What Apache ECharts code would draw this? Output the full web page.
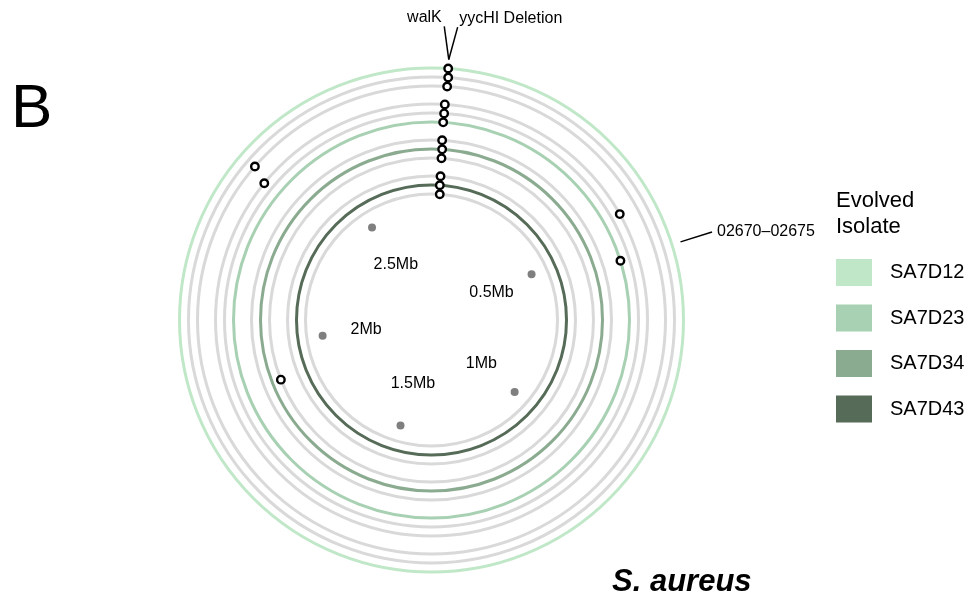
<!DOCTYPE html>
<html>
<head>
<meta charset="utf-8">
<script src="https://cdn.jsdelivr.net/npm/echarts@6/dist/echarts.min.js"></script>
<style>
  html, body { margin: 0; padding: 0; background: #fff; }
  #chart { width: 974px; height: 602px; }
</style>
</head>
<body>
<div id="chart"></div>
<script>
// Genome length (bp) used for the circular scale
const genomeLength = 2750000;

// Evolved isolates, outermost track group first
const isolates = ['SA7D12', 'SA7D23', 'SA7D34', 'SA7D43'];
// Which of the three tracks of each isolate is drawn in the isolate colour (0 = innermost)
const highlightTrack = [2, 0, 1, 1];

// Mutation calls: isolate index, track within the isolate group, genome position (bp)
const mutIsolate = [0, 0, 0, 1, 1, 1, 2, 2, 2, 3, 3, 3, 0, 1, 1, 1, 2];
const mutTrack   = [2, 1, 0, 2, 1, 0, 2, 1, 0, 2, 1, 0, 0, 2, 2, 0, 0];
const mutPos     = [29000, 30100, 29300, 27000, 26700, 25800, 25900, 27300, 27000, 27400, 27000, 28700,
                    2375700, 2362500, 463200, 554500, 1897500];

// Genome position ticks (Mb)
const tickMb = [0.5, 1, 1.5, 2, 2.5];
const tickLabels = ['0.5Mb', '1Mb', '1.5Mb', '2Mb', '2.5Mb'];

// Annotated genes
const geneNames = ['walK', 'yycHI Deletion', '02670\u201302675'];
const genePos = [29000, 29000, 554500];

// ---- layout & styling ----
const FONT = '"Liberation Sans", Arial, Helvetica, sans-serif';
const isolateColors = ['#c0e8c8', '#a8d0b2', '#8bab90', '#566b58'];
const TRACK_GRAY = '#d9d9d9';
const TRACK_BASE = 126, TRACK_STEP = 9, GROUP_STEP = 36;
const TICK_DOT_R = 110, TICK_LABEL_R = 66;
const LEAD_R0 = 261, LEAD_R1 = 294;
const geneLabelShift = [-10000, 10000, 0];           // spread of the label end of each leader line (bp)
const geneLabelAlign = ['right', 'left', 'left'];
const geneLabelOffset = [[-2.5, -8.5], [1.5, -8.5], [5, 0]];

function trackRadius(iso, track) {
  const group = isolates.length - 1 - iso;             // 0 = innermost group
  return TRACK_BASE + GROUP_STEP * group + TRACK_STEP * track;
}

const ringSeries = isolates.map((name, i) => ({
  type: 'custom',
  name: name,
  coordinateSystem: 'polar',
  silent: true,
  z: 1,
  itemStyle: { color: isolateColors[i] },
  data: [0, 1, 2].map(t => [trackRadius(i, t), 0, t]),
  renderItem: function (params, api) {
    const cs = params.coordSys;
    const p = api.coord([api.value(0), 0]);
    const r = Math.hypot(p[0] - cs.cx, p[1] - cs.cy);
    const t = api.value(2);
    return {
      type: 'circle',
      shape: { cx: cs.cx, cy: cs.cy, r: r },
      style: { fill: 'none', stroke: t === highlightTrack[i] ? isolateColors[i] : TRACK_GRAY, lineWidth: 3 }
    };
  }
}));

const option = {
  animation: false,
  backgroundColor: '#fff',
  textStyle: { fontFamily: FONT },
  title: [
    { text: 'B', left: 11, top: 79, padding: 0,
      textStyle: { fontSize: 62, fontWeight: 'normal', color: '#000', fontFamily: FONT } },
    { text: 'Evolved\nIsolate', left: 836, top: 188, padding: 0,
      textStyle: { fontSize: 22, lineHeight: 26, fontWeight: 'normal', color: '#000', fontFamily: FONT } },
    { text: 'S. aureus', left: 612, top: 567, padding: 0,
      textStyle: { fontSize: 31, fontWeight: 'bold', fontStyle: 'italic', color: '#000', fontFamily: FONT } }
  ],
  legend: {
    data: isolates,
    orient: 'vertical',
    left: 836, top: 259,
    padding: 0,
    icon: 'rect',
    itemWidth: 36, itemHeight: 27, itemGap: 18.5,
    selectedMode: false,
    textStyle: { fontSize: 20, color: '#000', fontFamily: FONT, padding: [6, 0, 0, 13] }
  },
  polar: { center: [431.5, 320], radius: 300 },
  radiusAxis: { type: 'value', min: 0, max: 300, show: false },
  angleAxis: { type: 'value', min: 0, max: genomeLength, startAngle: 90, clockwise: true, show: false },
  series: ringSeries.concat([
    {
      type: 'scatter',
      name: 'mutations',
      coordinateSystem: 'polar',
      z: 5,
      symbol: 'circle',
      symbolSize: 7.5,
      itemStyle: { color: '#fff', borderColor: '#000', borderWidth: 2.4, opacity: 1 },
      data: mutPos.map((p, k) => [trackRadius(mutIsolate[k], mutTrack[k]), p])
    },
    {
      type: 'scatter',
      name: 'ticks',
      coordinateSystem: 'polar',
      z: 3,
      symbolSize: 8,
      itemStyle: { color: '#7f7f7f', opacity: 1 },
      data: tickMb.map(m => [TICK_DOT_R, m * 1e6])
    },
    {
      type: 'scatter',
      name: 'tick labels',
      coordinateSystem: 'polar',
      z: 3,
      symbolSize: 1,
      itemStyle: { color: 'rgba(0,0,0,0)', opacity: 1 },
      label: {
        show: true, position: 'inside',
        formatter: p => tickLabels[p.dataIndex],
        fontSize: 16, color: '#000', opacity: 1, fontFamily: FONT
      },
      data: tickMb.map(m => [TICK_LABEL_R, m * 1e6])
    },
    {
      type: 'custom',
      name: 'genes',
      coordinateSystem: 'polar',
      silent: true,
      z: 6,
      data: genePos.map(p => [LEAD_R0, p]),
      renderItem: function (params, api) {
        const i = params.dataIndex;
        const a = api.coord([LEAD_R0, genePos[i]]);
        const b = api.coord([LEAD_R1, genePos[i] + geneLabelShift[i]]);
        const off = geneLabelOffset[i];
        return {
          type: 'group',
          children: [
            { type: 'line', shape: { x1: a[0], y1: a[1], x2: b[0], y2: b[1] },
              style: { stroke: '#000', lineWidth: 1.5 } },
            { type: 'text', x: b[0] + off[0], y: b[1] + off[1],
              style: { text: geneNames[i], fill: '#000', fontSize: 16, fontFamily: FONT,
                       align: geneLabelAlign[i], verticalAlign: 'middle' } }
          ]
        };
      }
    }
  ])
};

const chart = echarts.init(document.getElementById('chart'), null, { renderer: 'canvas' });
chart.setOption(option);
</script>
</body>
</html>
